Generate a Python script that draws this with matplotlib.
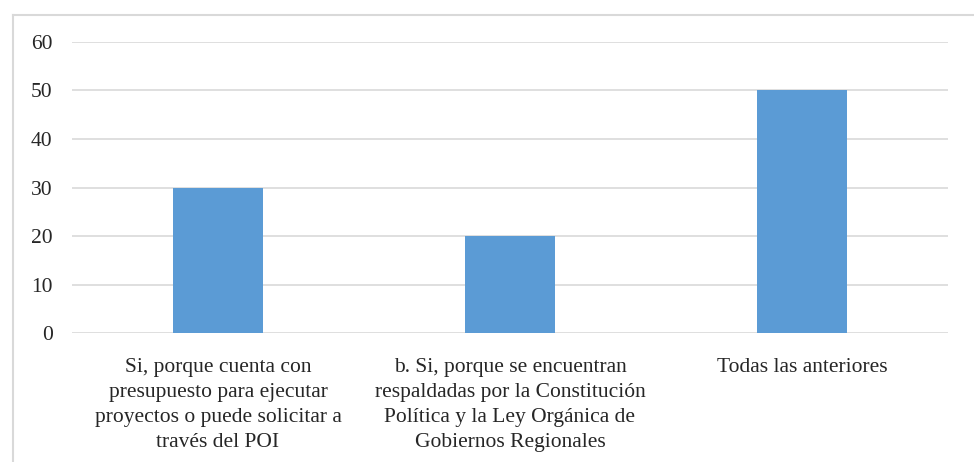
import matplotlib.pyplot as plt
from matplotlib.lines import Line2D

# datos del grafico
categorias = [
    "Si, porque cuenta con\npresupuesto para ejecutar\nproyectos o puede solicitar a\ntravés del POI",
    "b. Si, porque se encuentran\nrespaldadas por la Constitución\nPolítica y la Ley Orgánica de\nGobiernos Regionales",
    "Todas las anteriores",
]
valores = [30, 20, 50]
ticks_y = [0, 10, 20, 30, 40, 50, 60]

plt.rcParams['font.family'] = ['Liberation Serif', 'DejaVu Serif']

fig = plt.figure(figsize=(9.74, 4.62), dpi=100)
ax = fig.add_axes([0.0739, 0.2792, 0.8994, 0.6299])

x = list(range(len(categorias)))
ax.bar(x, valores, width=0.31, color="#5B9BD5", zorder=3)

ax.set_xlim(-0.5, 2.5)
ax.set_ylim(0, 60)
ax.set_yticks(ticks_y)
ax.set_xticks(x)
ax.set_xticklabels(categorias, fontsize=15.5, color="#262626", linespacing=1.42)
ax.tick_params(axis='y', labelsize=15.5, colors="#262626", length=0, pad=14)
ax.tick_params(axis='x', length=0, pad=18)
ax.grid(axis='y', color="#D9D9D9", linewidth=1.2, zorder=0)
for s in ax.spines.values():
    s.set_visible(False)

# marco del grafico (solo borde izquierdo y superior visibles)
fig.add_artist(Line2D([13/974, 13/974], [0, 1 - 15/462], color="#D9D9D9", linewidth=1.5))
fig.add_artist(Line2D([13/974, 1], [1 - 15/462, 1 - 15/462], color="#D9D9D9", linewidth=1.5))

fig.savefig("out.png", dpi=100)
